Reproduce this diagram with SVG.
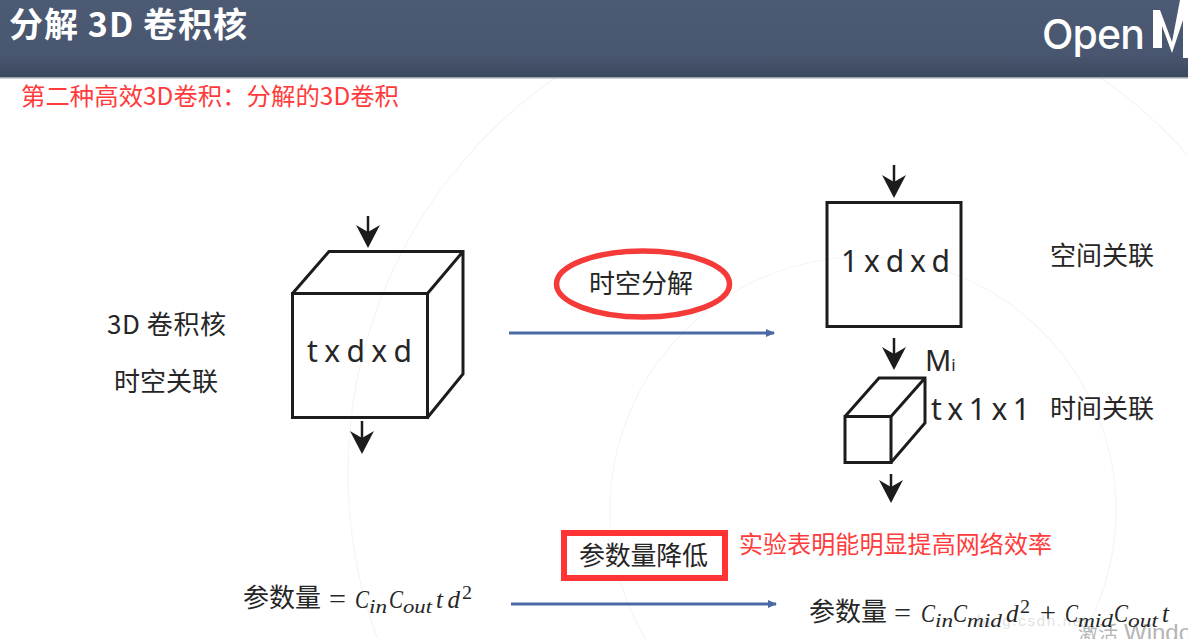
<svg xmlns="http://www.w3.org/2000/svg" width="1188" height="639" viewBox="0 0 1188 639">
<defs>
<linearGradient id="hdr" x1="0" y1="0" x2="0" y2="1"><stop offset="0" stop-color="#4c5a73"/><stop offset="0.7" stop-color="#48566f"/><stop offset="1" stop-color="#3c495f"/></linearGradient>
<marker id="bh" markerWidth="10" markerHeight="8" refX="8" refY="4" orient="auto" markerUnits="userSpaceOnUse"><path d="M0 0L9 4L0 8z" fill="#4a6aa5"/></marker>
</defs>
<style>
text{font-family:"Liberation Sans","Noto Sans CJK SC",sans-serif;fill:#262626}
.cn{font-size:26px;font-family:"Noto Sans CJK SC",sans-serif}
.red{fill:#ff3b3b;font-family:"Noto Sans CJK SC",sans-serif}
.dim{font-family:"Noto Sans",sans-serif;font-size:30px}
.m{font-family:"Liberation Serif",serif;font-style:italic;font-size:25px}
.s{font-family:"Liberation Serif",serif;font-style:italic;font-size:19px}
.op{font-family:"Liberation Serif",serif;font-size:27px}
.box{fill:none;stroke:#1c1c1c;stroke-width:3;stroke-linejoin:miter}
.shaft{stroke:#1c1c1c;stroke-width:2.5;fill:none}
.head{fill:#1c1c1c}
.blue{stroke:#4a6aa5;stroke-width:3;fill:none;marker-end:url(#bh)}
.faint{fill:none;stroke:#f5f5f5;stroke-width:1.2}
</style>
<rect width="1188" height="639" fill="#fff"/>
<g id="background">
<circle class="faint" cx="828" cy="473" r="480"/>
<circle class="faint" cx="863" cy="510" r="253"/>
</g>
<g id="header">
<rect width="1188" height="78" fill="url(#hdr)"/>
<rect y="77" width="1188" height="1.5" fill="#9aa3b2"/>
<text x="9" y="37" font-size="34" font-weight="700" textLength="238" style="fill:#fff;font-family:'Noto Sans CJK SC',sans-serif">分解 3D 卷积核</text>
<text x="1042" y="49" font-size="41" font-weight="500" textLength="103" style="fill:#fff;font-family:'Inter',sans-serif">Open</text>
<path d="M1153 48V10L1160 10L1172 42L1180 0H1188V58H1183V20L1172 53L1162 26V48Z" fill="#fff"/>
</g>
<text id="subtitle" class="red" x="21" y="105" font-size="24.400" textLength="378">第二种高效3D卷积：分解的3D卷积</text>
<g id="cube3d">
<path class="box" d="M292.500 293.500H427.500V417.500H292.500Z"/>
<path class="box" d="M292.500 293.500L329 251.500H463V374L427.500 417.500M427.500 293.500L463 251.500"/>
<text class="dim" x="307" y="362" textLength="105">t x d x d</text>
</g>
<g id="label3d">
<text class="cn" x="107" y="334" textLength="119">3D 卷积核</text>
<text class="cn" x="114" y="391">时空关联</text>
</g>
<g id="spatial">
<rect class="box" x="827" y="202.500" width="134" height="124"/>
<text class="dim" x="841" y="272" textLength="109">1 x d x d</text>
</g>
<text id="spatial-label" class="cn" x="1050" y="265">空间关联</text>
<g id="temporal">
<path class="box" d="M845 416.500H891V462.500H845Z"/>
<path class="box" d="M845 416.500L879 378H925V423L891 462.500M891 416.500L925 378"/>
<text x="925" y="371" font-size="29" style="font-family:'Noto Sans',sans-serif">M<tspan font-size="17">i</tspan></text>
<text class="dim" x="931" y="420" textLength="99">t x 1 x 1</text>
</g>
<text id="temporal-label" class="cn" x="1050" y="418">时间关联</text>
<g id="factor">
<ellipse cx="643" cy="284" rx="86.500" ry="33" fill="#fff" stroke="#f53a3a" stroke-width="5.500"/>
<text class="cn" x="589" y="293">时空分解</text>
</g>
<g id="param-low">
<rect x="564" y="533" width="161" height="45" fill="#fff" stroke="#ff3535" stroke-width="6"/>
<text class="cn" x="579" y="565" textLength="129">参数量降低</text>
</g>
<text id="note" class="red" x="739" y="553" font-size="24" textLength="313">实验表明能明显提高网络效率</text>
<g id="watermark">
<text x="977" y="626" font-size="15" textLength="110" style="fill:#e2e2e2">blog.csdn.net</text>
<text x="1078" y="641" font-size="20" style="fill:#b5b5b5;font-family:'Noto Sans CJK SC',sans-serif">激活</text>
<text x="1124" y="641" font-size="24" style="fill:#b5b5b5">Windo</text>
</g>
<g id="formula-left">
<text class="cn" x="243" y="607">参数量</text>
<text class="op" x="329" y="608" textLength="17" lengthAdjust="spacingAndGlyphs">=</text>
<text class="m" x="355" y="608" textLength="14" lengthAdjust="spacingAndGlyphs">C</text>
<text class="s" x="369" y="613" textLength="18" lengthAdjust="spacingAndGlyphs">in</text>
<text class="m" x="389" y="608" textLength="14" lengthAdjust="spacingAndGlyphs">C</text>
<text class="s" x="403" y="613" textLength="29" lengthAdjust="spacingAndGlyphs">out</text>
<text class="m" x="436" y="608" textLength="24">td</text>
<text class="s" x="462" y="599" textLength="10" lengthAdjust="spacingAndGlyphs" style="font-style:normal">2</text>
</g>
<g id="formula-right">
<text class="cn" x="809" y="621">参数量</text>
<text class="op" x="894" y="622" textLength="17" lengthAdjust="spacingAndGlyphs">=</text>
<text class="m" x="921" y="622" textLength="14" lengthAdjust="spacingAndGlyphs">C</text>
<text class="s" x="935" y="627" textLength="18" lengthAdjust="spacingAndGlyphs">in</text>
<text class="m" x="953" y="622" textLength="14" lengthAdjust="spacingAndGlyphs">C</text>
<text class="s" x="967" y="627" textLength="35" lengthAdjust="spacingAndGlyphs">mid</text>
<text class="m" x="1006" y="622">d</text>
<text class="s" x="1020" y="613" textLength="10" lengthAdjust="spacingAndGlyphs" style="font-style:normal">2</text>
<text class="op" x="1040" y="622" textLength="16" lengthAdjust="spacingAndGlyphs">+</text>
<text class="m" x="1065" y="622" textLength="13" lengthAdjust="spacingAndGlyphs">C</text>
<text class="s" x="1078" y="627" textLength="35" lengthAdjust="spacingAndGlyphs">mid</text>
<text class="m" x="1114" y="622" textLength="14" lengthAdjust="spacingAndGlyphs">C</text>
<text class="s" x="1128" y="627" textLength="30" lengthAdjust="spacingAndGlyphs">out</text>
<text class="m" x="1162" y="622">t</text>
</g>
<g id="connectors">
<path class="shaft" d="M368 216V236"/><path class="head" d="M356 225L368 232L380 225L368 248Z"/>
<path class="shaft" d="M362 421V441"/><path class="head" d="M350 431L362 438L374 431L362 454Z"/>
<path class="shaft" d="M894 165V185"/><path class="head" d="M882 175L894 182L906 175L894 198Z"/>
<path class="shaft" d="M894 338V358"/><path class="head" d="M882 347L894 354L906 347L894 370Z"/>
<path class="shaft" d="M891 474V492"/><path class="head" d="M879 480L891 487L903 480L891 503Z"/>
<path class="blue" d="M509 333H774"/>
<path class="blue" d="M511 604H776"/>
</g>
</svg>
